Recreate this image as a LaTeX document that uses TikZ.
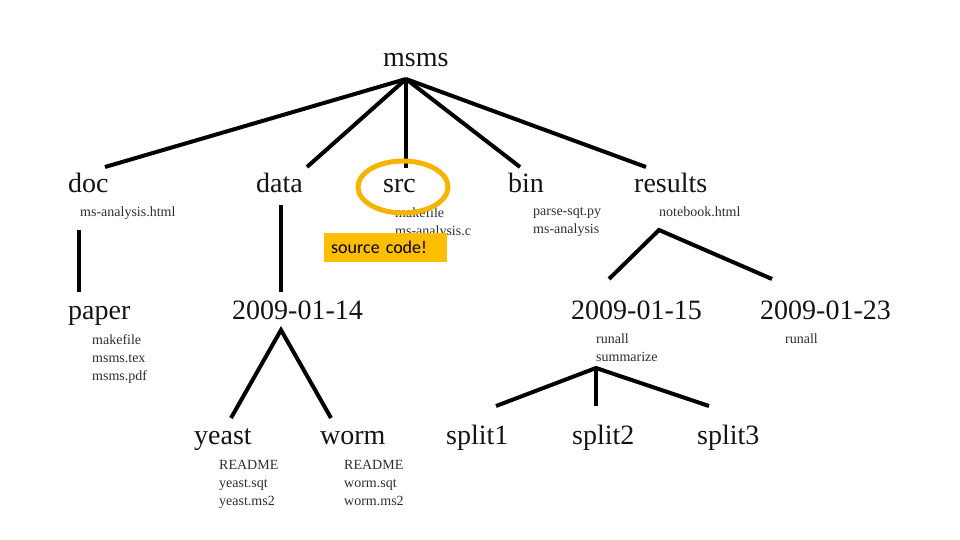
\documentclass[tikz,border=0pt]{standalone}
\usepackage{fontspec}
\setmainfont{Liberation Serif}
\newfontfamily\boxfont{Carlito}
\definecolor{circlegold}{RGB}{245,180,0}
\definecolor{notegold}{RGB}{255,190,0}
\definecolor{filegray}{RGB}{45,45,45}
\tikzset{
  dirname/.style={anchor=base west, inner sep=0pt, text=black!92, font=\fontsize{28}{30}\selectfont},
  filelist/.style={anchor=north west, inner sep=0pt, align=left, text=filegray, font=\fontsize{14}{18}\selectfont},
  branch/.style={line width=4pt, line cap=butt},
}
\begin{document}
\begin{tikzpicture}[x=1pt, y=-1pt]
			%%%%% START %%%%%
			\useasboundingbox (0, 0) rectangle (960, 540);
			
			% directories
			\node[dirname] (msms) at (383, 67) {msms};
			\node[dirname] (doc) at (68, 193) {doc};
			\node[dirname] (data) at (256, 193) {data};
			\node[dirname] (src) at (383, 193) {src};
			\node[dirname] (bin) at (508, 193) {bin};
			\node[dirname] (results) at (634, 193) {results};
			\node[dirname] (paper) at (68, 319) {paper};
			\node[dirname] (day14) at (232, 319) {2009-01-14};
			\node[dirname] (day15) at (571, 319) {2009-01-15};
			\node[dirname] (day23) at (760, 319) {2009-01-23};
			\node[dirname] (yeast) at (194, 444) {yeast};
			\node[dirname] (worm) at (320, 444) {worm};
			\node[dirname] (split1) at (446, 444) {split1};
			\node[dirname] (split2) at (572, 444) {split2};
			\node[dirname] (split3) at (697, 444) {split3};
			
			% files
			\node[filelist] (docfiles) at (80, 207) {ms-analysis.html};
			\node[filelist] (srcfiles) at (395, 207) {makefile\\ms-analysis.c};
			\node[filelist] (binfiles) at (533, 207) {parse-sqt.py\\ms-analysis};
			\node[filelist] (resultsfiles) at (659, 207) {notebook.html};
			\node[filelist] (paperfiles) at (92, 334) {makefile\\msms.tex\\msms.pdf};
			\node[filelist] (day15files) at (596, 334) {runall\\summarize};
			\node[filelist] (day23files) at (785, 334) {runall};
			\node[filelist] (yeastfiles) at (219, 460) {README\\yeast.sqt\\yeast.ms2};
			\node[filelist] (wormfiles) at (344, 460) {README\\worm.sqt\\worm.ms2};
			
			% junctions
			\coordinate (msmsroot) at (406, 79);
			\coordinate (docend) at (105, 167);
			\coordinate (dataend) at (307, 167);
			\coordinate (srcend) at (406, 168);
			\coordinate (binend) at (520, 167);
			\coordinate (resultsend) at (646, 167);
			\coordinate (doctop) at (79, 230);
			\coordinate (paperend) at (79, 292);
			\coordinate (datatop) at (281, 205);
			\coordinate (day14end) at (281, 292);
			\coordinate (day14root) at (281, 330);
			\coordinate (yeastend) at (231, 418);
			\coordinate (wormend) at (331, 418);
			\coordinate (resultsroot) at (659, 230);
			\coordinate (day15end) at (609, 279);
			\coordinate (day23end) at (772, 279);
			\coordinate (day15root) at (596, 368);
			\coordinate (split1end) at (496, 406);
			\coordinate (split2end) at (596, 406);
			\coordinate (split3end) at (709, 406);
			
			% connectors
			\draw[branch] (msmsroot) -- (docend);
			\draw[branch] (msmsroot) -- (dataend);
			\draw[branch] (msmsroot) -- (srcend);
			\draw[branch] (msmsroot) -- (binend);
			\draw[branch] (msmsroot) -- (resultsend);
			\draw[branch] (doctop) -- (paperend);
			\draw[branch] (datatop) -- (day14end);
			\draw[branch] (yeastend) -- (day14root) -- (wormend);
			\draw[branch] (day15end) -- (resultsroot) -- (day23end);
			\draw[branch] (split1end) -- (day15root) -- (split3end);
			\draw[branch] (day15root) -- (split2end);
			
			% highlight
			\draw[line width=5pt, color=circlegold] (403, 187) ellipse (45 and 26);
			\node[fill=notegold, minimum height=29pt, text width=109pt, inner xsep=7pt, inner ysep=0pt,
			      align=left, anchor=north west, font=\boxfont\fontsize{18}{20}\selectfont] (note) at (324, 233)
			      {source code!};
			
			%%%%% END %%%%%
\end{tikzpicture}
\end{document}
